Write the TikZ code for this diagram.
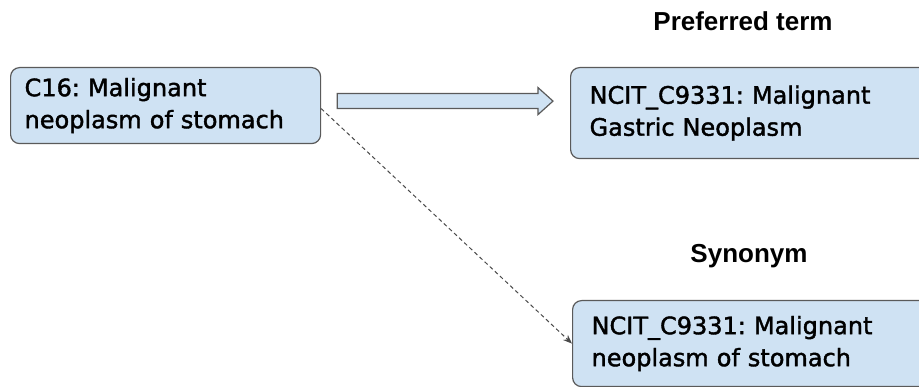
\documentclass[tikz,border=0pt]{standalone}
\usepackage{fontspec}
\usetikzlibrary{arrows.meta,calc}
\newfontfamily\boxfont[FakeBold=1.6]{DejaVu Sans}
\newfontfamily\headfont{Liberation Sans}
\newcommand\termfont{\frenchspacing\hyphenpenalty=10000\relax\boxfont\fontsize{24}{32}\selectfont}
\definecolor{boxfill}{HTML}{CFE2F3}
\definecolor{boxline}{HTML}{5A5A5A}
\definecolor{linkgray}{HTML}{4A4A4A}
\tikzset{
  termbox/.style={draw=boxline, fill=boxfill, line width=1.2pt, rounded corners=9pt,
    align=left, anchor=north west, inner ysep=0pt, font=\termfont},
  headlabel/.style={font=\headfont\bfseries\fontsize{26}{30}\selectfont, inner sep=0pt},
  blockarrow/.style={draw=boxline, fill=boxfill, line width=1.2pt, line join=miter},
  synlink/.style={draw=linkgray, line width=1pt, dashed, dash pattern=on 4pt off 3pt,
    -{Stealth[length=9pt,width=7pt]}}
}
\begin{document}
\begin{tikzpicture}[x=1pt,y=1pt]
\useasboundingbox (0,0) rectangle (919,387);
\clip (0,0) rectangle (919,387);
\fill[white] (0,0) rectangle (919,387);

% source term
\node[termbox, text width=282pt, inner xsep=14pt, minimum height=76pt] (src) at (10,320)
  {C16: Malignant\\neoplasm of stomach};

% preferred term and synonym
\node[termbox, text width=340pt, inner xsep=19pt, minimum height=91pt] (pref) at (570,320)
  {NCIT\_C9331: Malignant\\Gastric Neoplasm};
\node[termbox, text width=340pt, inner xsep=19pt, minimum height=86pt] (syn) at (572,87)
  {NCIT\_C9331: Malignant\\neoplasm of stomach};

% headings
\node[headlabel] (preflabel) at (743,366) {Preferred term};
\node[headlabel] (synlabel) at (749,131) {Synonym};

% block arrow to the preferred term
\coordinate (tail) at ($(src.east)+(16,4.5)$);
\coordinate (tip) at ($(pref.west)+(-17,12)$);
\draw[blockarrow] ($(tail)+(0,-7.5)$) -- ($(tip)+(-15,-7.5)$) -- ($(tip)+(-15,-13.5)$)
  -- (tip) -- ($(tip)+(-15,13.5)$) -- ($(tip)+(-15,7.5)$) -- ($(tail)+(0,7.5)$) -- cycle;

% dashed link to the synonym
\draw[synlink] ($(src.east)+(0,-3)$) -- (syn.west);
\end{tikzpicture}
\end{document}
